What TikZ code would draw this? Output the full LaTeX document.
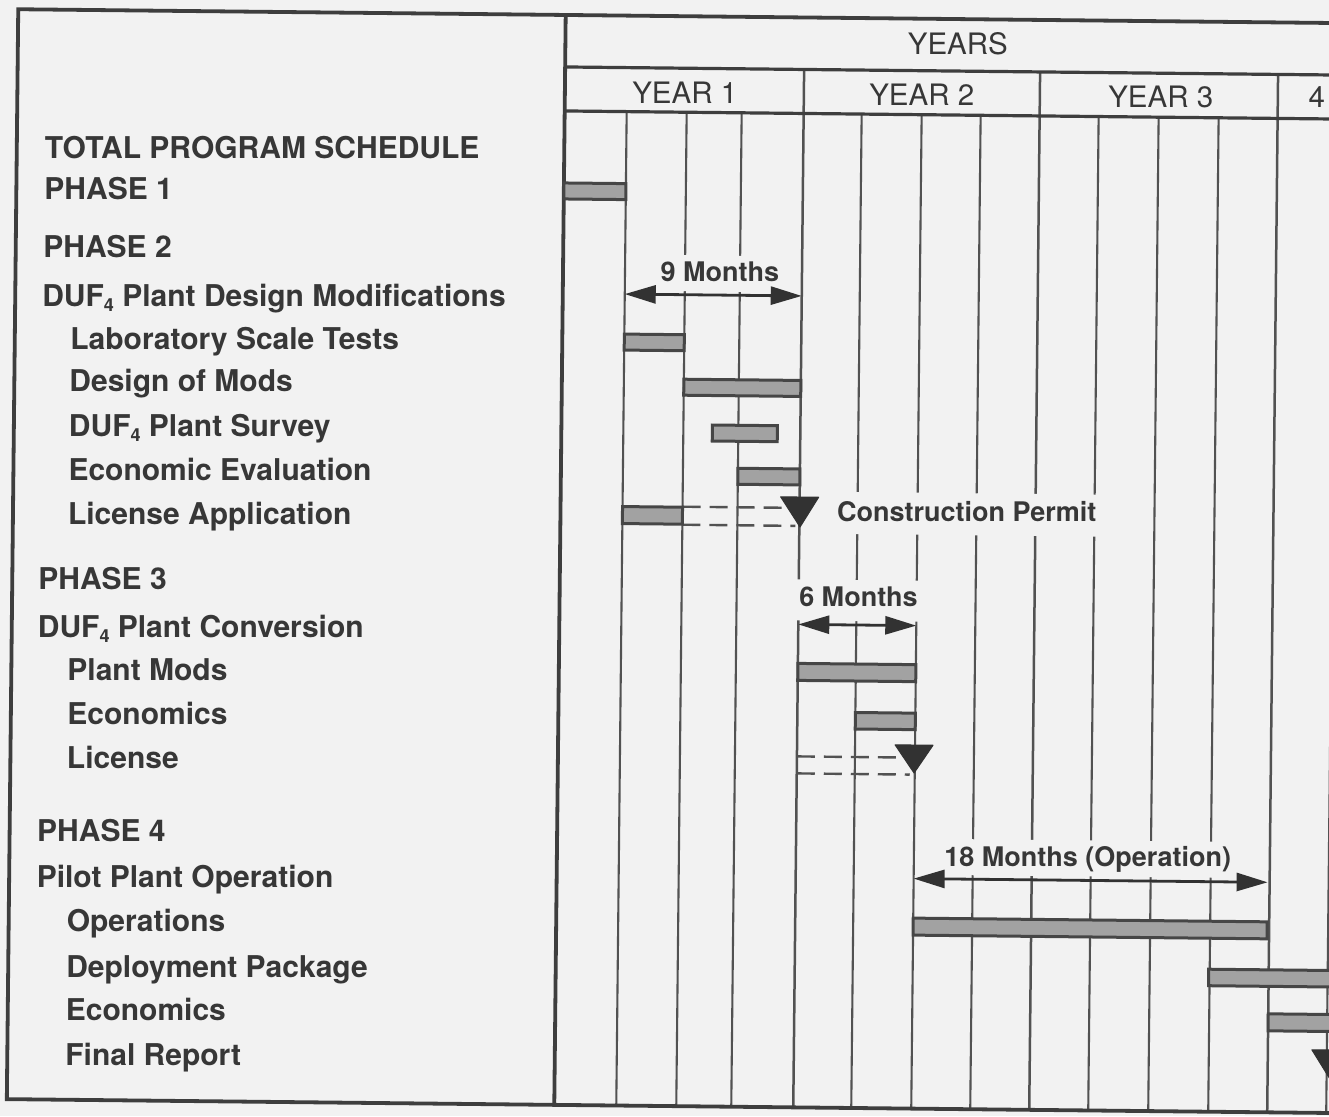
\documentclass[tikz,border=0pt]{standalone}
\usepackage{fontspec}
\newfontfamily\hv{TeX Gyre Heros}
\usetikzlibrary{arrows.meta}
\definecolor{bg}{RGB}{242,242,242}
\definecolor{ink}{RGB}{55,55,55}
\definecolor{linec}{RGB}{62,62,62}
\definecolor{gridc}{RGB}{82,82,82}
\definecolor{barfill}{RGB}{162,162,162}
\definecolor{bardraw}{RGB}{70,70,70}
\definecolor{milec}{RGB}{50,50,50}
\newcommand\lblfont{\hv\bfseries\fontsize{30}{35}\selectfont}
\newcommand\hdrfont{\hv\fontsize{29.5}{34}\selectfont}
\newcommand\spnfont{\hv\bfseries\fontsize{27}{32}\selectfont}
\newcommand\subf[1]{\raisebox{-0.3ex}{\fontsize{18}{18}\selectfont #1}}
\tikzset{
  lbl/.style={anchor=base west, inner sep=0pt, font=\lblfont, text=ink},
  hdr/.style={anchor=base, inner sep=0pt, font=\hdrfont, text=ink},
  spn/.style={anchor=base, inner sep=0pt, font=\spnfont, text=ink},
  frameline/.style={draw=linec, line width=3.8pt},
  gridl/.style={draw=gridc, line width=2.1pt},
  yearl/.style={draw=gridc, line width=2.5pt},
  bar/.style={draw=bardraw, fill=barfill, line width=3pt},
  spanarrow/.style={draw=milec, line width=2.8pt,
     {Triangle[length=31pt,width=18pt]}-{Triangle[length=31pt,width=18pt]}},
  planned/.style={draw=gridc, line width=2.4pt, dash pattern=on 18pt off 9pt},
  mile/.style={fill=milec, draw=milec, line width=1pt, line join=round},
  gapmask/.style={fill=bg, draw=none}
}
\begin{document}
\begin{tikzpicture}[x=1pt,y=-1pt]
\path[use as bounding box, fill=bg] (0,0) rectangle (1329,1116);
\clip (0,0) rectangle (1329,1116);
\begin{scope}[rotate around={-0.6:(664,558)}]
  % grid lines
  \foreach \q in {622,682,737,857,917,976,1094,1154,1214,1332}
    \draw[gridl] (\q,112) -- (\q,1106);
  \foreach \q in {799,1035,1273}
    \draw[yearl] (\q,68) -- (\q,1106);
  % gaps in grid behind labels
  \fill[gapmask] (640,255) rectangle (790,291);
  \fill[gapmask] (792,578) rectangle (925,619);
  \fill[gapmask] (830,490) rectangle (1100,532);
  \fill[gapmask] (925,836) rectangle (1262,872);
  % frame and header
  \draw[frameline] (1400,16) -- (12.5,16) -- (12.5,1106) -- (1400,1106);
  \draw[frameline] (560,16) -- (560,1106);
  \draw[frameline, line width=3.2pt] (560,68) -- (1400,68);
  \draw[frameline, line width=3.2pt] (560,112) -- (1400,112);
  % header text
  \node[hdr] (years) at (952.6,51.6) {YEARS};
  \node[hdr] (y1) at (680,102.8) {YEAR 1};
  \node[hdr] (y2) at (917,102.4) {YEAR 2};
  \node[hdr] (y3) at (1156,102.4) {YEAR 3};
  \node[hdr] (y4) at (1312,101) {4};
  % row labels
  \node[lbl] (l1) at (40.5,165) {TOTAL PROGRAM SCHEDULE};
  \node[lbl] (l2) at (40.5,206) {PHASE 1};
  \node[lbl] (l3) at (40,264) {PHASE 2};
  \node[lbl] (l4) at (39.5,313) {DUF\subf{4} Plant Design Modifications};
  \node[lbl] (l5) at (68,356) {Laboratory Scale Tests};
  \node[lbl] (l6) at (67.5,398) {Design of Mods};
  \node[lbl] (l7) at (67.5,443) {DUF\subf{4} Plant Survey};
  \node[lbl] (l8) at (67.5,487) {Economic Evaluation};
  \node[lbl] (l9) at (67.5,531) {License Application};
  \node[lbl] (l10) at (38.5,596) {PHASE 3};
  \node[lbl] (l11) at (38.5,644) {DUF\subf{4} Plant Conversion};
  \node[lbl] (l12) at (68.5,687) {Plant Mods};
  \node[lbl] (l13) at (69,731) {Economics};
  \node[lbl] (l14) at (69,775) {License};
  \node[lbl] (l15) at (40,848) {PHASE 4};
  \node[lbl] (l16) at (40,894) {Pilot Plant Operation};
  \node[lbl] (l17) at (70.5,938) {Operations};
  \node[lbl] (l18) at (70.5,984) {Deployment Package};
  \node[lbl] (l19) at (70.5,1027) {Economics};
  \node[lbl] (l20) at (70.5,1072) {Final Report};
  % planned (dashed) bars
  \draw[planned] (682,506.5) -- (795,506.5);
  \draw[planned] (682,524.5) -- (795,524.5);
  \draw[planned] (799,755) -- (912,755);
  \draw[planned] (799,772) -- (912,772);
  % bars
  \draw[bar] (560,184) rectangle (622,200);
  \draw[bar] (622,334.5) rectangle (682,350.5);
  \draw[bar] (682,379) rectangle (799,395);
  \draw[bar] (711,424.5) rectangle (776,440.5);
  \draw[bar] (737,467.5) rectangle (799,483.5);
  \draw[bar] (622,507) rectangle (682,524);
  \draw[bar] (799,662) rectangle (917,679);
  \draw[bar] (857,710.5) rectangle (917,727);
  \draw[bar] (917,915.5) rectangle (1271,932.5);
  \draw[bar] (1213,963.5) rectangle (1400,980);
  \draw[bar] (1273,1007.5) rectangle (1400,1024.5);
  % milestones
  \fill[mile] (780,495.6) -- (818,495.6) -- (799.7,525.6) -- cycle;
  \fill[mile] (897,742.4) -- (935,742.4) -- (916.3,770.4) -- cycle;
  \fill[mile] (1317,1043) -- (1355,1043) -- (1336,1073) -- cycle;
  % span arrows
  \coordinate (a9s) at (622,294.5);  \coordinate (a9e) at (799,294.5);
  \coordinate (a6s) at (799,623);    \coordinate (a6e) at (917,623);
  \coordinate (a18s) at (917,876);   \coordinate (a18e) at (1271,876);
  \draw[spanarrow] (a9s) -- (a9e);
  \draw[spanarrow] (a6s) -- (a6e);
  \draw[spanarrow] (a18s) -- (a18e);
  \node[spn] (t9) at (717,281) {9 Months};
  \node[spn] (t6) at (859,604.7) {6 Months};
  \node[spn] (t18) at (1091,862) {18 Months (Operation)};
  \node[spn, anchor=base west] (tcp) at (836.5,519.5) {Construction Permit};
\end{scope}
\end{tikzpicture}
\end{document}
